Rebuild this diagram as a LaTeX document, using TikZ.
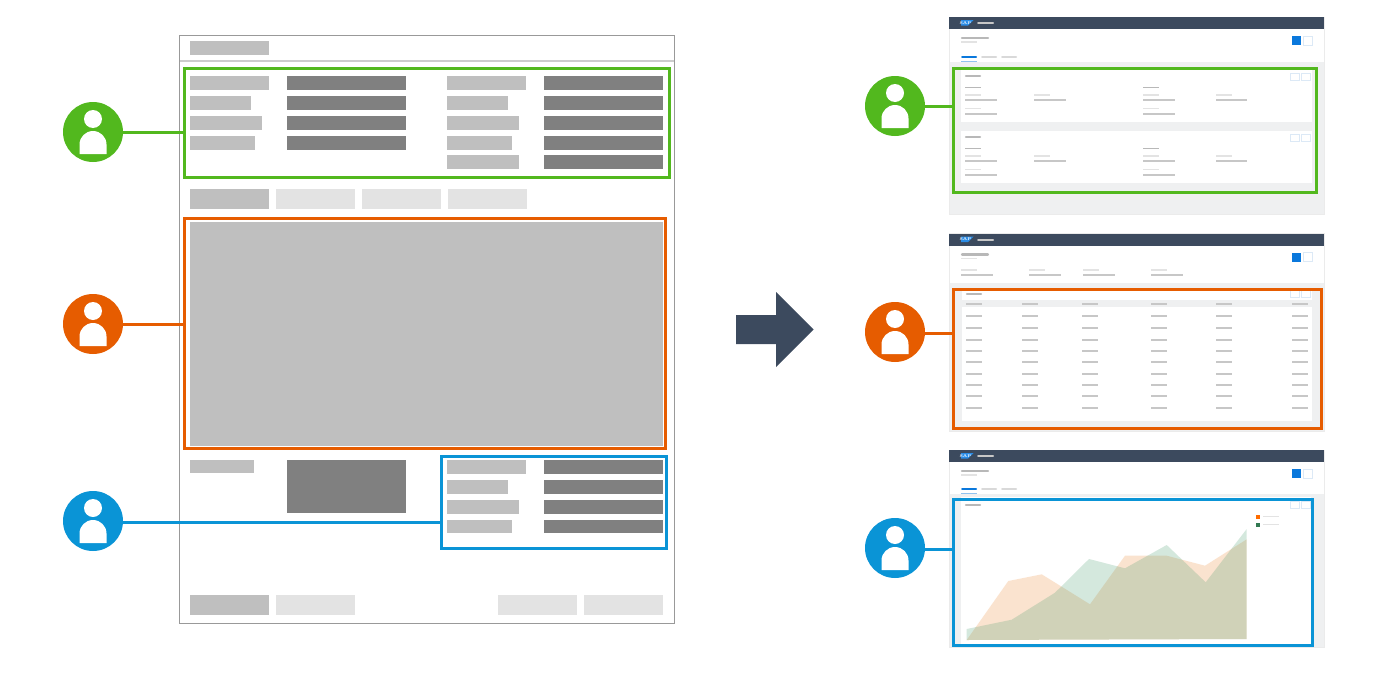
\documentclass[tikz,border=0pt]{standalone}
\usepackage{tikz}
\usetikzlibrary{arrows}
\usetikzlibrary{shapes,positioning}

\definecolor{usergreen}{HTML}{52B81E}
\definecolor{userorange}{HTML}{E65C00}
\definecolor{userblue}{HTML}{0A94D6}
\definecolor{shellblue}{HTML}{3C4A5E}
\definecolor{blockmid}{HTML}{BFBFBF}
\definecolor{blockdark}{HTML}{808080}
\definecolor{blocklight}{HTML}{E3E3E3}
\definecolor{panelgrey}{HTML}{EFF0F1}
\definecolor{actionblue}{HTML}{0A78DC}
\definecolor{iconline}{HTML}{DCE9F6}
\definecolor{chartorange}{HTML}{F09A50}
\definecolor{chartgreen}{HTML}{3F9767}
\definecolor{logoblue}{HTML}{2A8CE6}

\tikzset{
  midblock/.style={fill=blockmid},
  darkblock/.style={fill=blockdark},
  lightblock/.style={fill=blocklight},
  avatar/.style={circle,minimum size=60pt,inner sep=0pt,outer sep=0pt},
  frameline/.style={rectangle,draw,line width=3pt,inner sep=0pt,outer sep=0pt},
  linkline/.style={line width=3pt},
  valueline/.style={draw=black!22,line width=1.3pt},
  captionline/.style={draw=black!11,line width=1.2pt},
  headline/.style={draw=black!28,line width=2.2pt,line cap=round},
  subheadline/.style={draw=black!28,line width=1.6pt},
  tabline/.style={draw=black!15,line width=2pt,line cap=round},
  iconbox/.style={draw=iconline,fill=white,line width=0.9pt},
  screenedge/.style={draw=black!8,line width=0.7pt}
}

\newcommand{\useravatar}[4]{
  \begin{scope}[shift={(#2,#3)}]
    \node (#1) [avatar,fill=#4] at (0,0) {};
    \fill [white] (0,-13) circle (9);
    \fill [white] (-13.5,22) -- (-13.5,12.5) arc (180:360:13.5 and 13.5) -- (13.5,22) -- cycle;
  \end{scope}
}

\newcommand{\screentop}[2]{
  \begin{scope}[shift={(0,#2)}]
    \fill [shellblue] (949,17) rectangle (1324,29);
    \fill [logoblue] (961,20) -- (973.5,20) -- (968,25.5) -- (961,25.5) -- cycle;
    \node (#1) [text=white,inner sep=0pt,font=\bfseries\fontsize{4}{4}\selectfont] at (965.5,22.7) {SAP};
    \draw [tabline,black!22] (978,23) -- (993,23);
    \draw [headline] (962,38) -- (988,38);
    \draw [captionline] (961,42) -- (977,42);
    \fill [actionblue] (1292,36) rectangle (1301,45);
    \draw [iconbox] (1303,36) rectangle (1312,45);
  \end{scope}
}

\newcommand{\screentabs}[1]{
  \begin{scope}[shift={(0,#1)}]
    \draw [actionblue,line width=2pt,line cap=round] (962,57) -- (976,57);
    \draw [actionblue!45,line width=1.2pt] (961,61.5) -- (977,61.5);
    \draw [tabline] (982,57) -- (996,57);
    \draw [tabline] (1002,57) -- (1016,57);
  \end{scope}
}

\newcommand{\cardicons}[1]{
  \draw [iconbox] (1290,#1) rectangle (1299,#1+7);
  \draw [iconbox] (1301,#1) rectangle (1310,#1+7);
}

\newcommand{\detailcard}[1]{
  \begin{scope}[shift={(0,#1)}]
    \fill [white] (961,70) rectangle (1312,122);
    \draw [headline] (966,76) -- (980,76);
    \cardicons{73}
    \draw [subheadline] (965,87.5) -- (981,87.5);
    \draw [subheadline] (1143,87.5) -- (1159,87.5);
    \foreach \xa/\xb in {965/997,1034/1066,1143/1175,1216/1247} {
      \draw [captionline] (\xa,95) -- (\xa+16,95);
      \draw [valueline] (\xa,100) -- (\xb,100);
    }
    \foreach \xa/\xb in {965/997,1143/1175} {
      \draw [captionline] (\xa,108.5) -- (\xa+16,108.5);
      \draw [valueline] (\xa,114) -- (\xb,114);
    }
  \end{scope}
}

\begin{document}
\begin{tikzpicture}[x=1pt,y=-1pt]

  \useasboundingbox (0,0) rectangle (1400,680);

  \draw [black!40,line width=1pt] (179.5,35.5) rectangle (674.5,623.5);
  \draw [black!20,line width=1.5pt] (180,61) -- (674,61);
  \fill [midblock] (190,41) rectangle (269,55);

  \foreach \y/\xa/\xb in {76/269/526,96/251/508,116/262/519,136/255/512} {
    \fill [midblock] (190,\y) rectangle (\xa,\y+14);
    \fill [darkblock] (287,\y) rectangle (406,\y+14);
    \fill [midblock] (447,\y) rectangle (\xb,\y+14);
    \fill [darkblock] (544,\y) rectangle (663,\y+14);
  }
  \fill [midblock] (447,155) rectangle (519,169);
  \fill [darkblock] (544,155) rectangle (663,169);

  \fill [midblock] (190,189) rectangle (269,209);
  \fill [lightblock] (276,189) rectangle (355,209);
  \fill [lightblock] (362,189) rectangle (441,209);
  \fill [lightblock] (448,189) rectangle (527,209);

  \fill [midblock] (190,222) rectangle (663,446);

  \fill [midblock] (190,460) rectangle (254,473);
  \fill [darkblock] (287,460) rectangle (406,513);
  \foreach \y/\xb in {460/526,480/508,500/519,519.5/512} {
    \fill [midblock] (447,\y) rectangle (\xb,\y+13.5);
    \fill [darkblock] (544,\y) rectangle (663,\y+13.5);
  }

  \fill [midblock] (190,595) rectangle (269,615);
  \fill [lightblock] (276,595) rectangle (355,615);
  \fill [lightblock] (498,595) rectangle (577,615);
  \fill [lightblock] (584,595) rectangle (663,615);

  \node (formgreen) [frameline,draw=usergreen,minimum width=485pt,minimum height=108.5pt] at (427,123) {};
  \node (formorange) [frameline,draw=userorange,minimum width=481pt,minimum height=230pt] at (425,333.5) {};
  \node (formblue) [frameline,draw=userblue,minimum width=225pt,minimum height=92pt] at (554,502.5) {};

  \useravatar{usera}{93}{132}{usergreen}
  \useravatar{userb}{93}{324}{userorange}
  \useravatar{userc}{93}{521}{userblue}

  \draw [linkline,usergreen] (usera.east) -- (usera.east -| formgreen.west);
  \draw [linkline,userorange] (userb.east) -- (userb.east -| formorange.west);
  \draw [linkline,userblue] ([yshift=-1pt]userc.east) -- ([yshift=-1pt]userc.east -| formblue.west);

  \fill [shellblue] (736,315) -- (776,315) -- (776,292) -- (813.5,329.5) -- (776,367) -- (776,344) -- (736,344) -- cycle;

  \fill [panelgrey] (949,17) rectangle (1324,214.5);
  \fill [white] (949,29) rectangle (1324,62);
  \draw [screenedge] (949,17) rectangle (1324,214.5);
  \screentop{sapa}{0}
  \screentabs{0}
  \detailcard{0}
  \detailcard{61}

  \fill [panelgrey] (949,233) rectangle (1324,431);
  \fill [white] (949,245) rectangle (1324,283);
  \draw [screenedge] (949,233) rectangle (1324,431);
  \screentop{sapb}{216.5}
  \foreach \x in {961,1029,1083,1151} {
    \draw [captionline] (\x,270) -- (\x+16,270);
    \draw [valueline] (\x,275) -- (\x+32,275);
  }
  \fill [white] (962,290) rectangle (1312,421);
  \fill [panelgrey] (962,300) rectangle (1312,307);
  \draw [headline] (967,294) -- (981,294);
  \cardicons{290}
  \foreach \x in {966,1022,1082,1151,1216,1292} {
    \draw [valueline] (\x,304) -- (\x+16,304);
    \foreach \y in {316,328,340,351,362,374,385,396,408} {
      \draw [valueline] (\x,\y) -- (\x+16,\y);
    }
  }

  \fill [panelgrey] (949,450) rectangle (1324,647);
  \fill [white] (949,462) rectangle (1324,494);
  \draw [screenedge] (949,450) rectangle (1324,647);
  \screentop{sapc}{433}
  \screentabs{432}
  \fill [white] (961,497) rectangle (1311,645);
  \draw [headline] (966,505) -- (980,505);
  \cardicons{501}
  \fill [chartorange,opacity=0.27] (966.7,640) -- (1008.3,581) -- (1041.7,574.3) -- (1090,604.3) -- (1125,555.7) -- (1166.7,555.7) -- (1205,565.7) -- (1246.7,539.3) -- (1246.7,639) -- cycle;
  \fill [chartgreen,opacity=0.22] (966.7,629) -- (1011.7,619.7) -- (1055,592.7) -- (1089,559) -- (1125,568.3) -- (1166.7,545) -- (1205.7,582.3) -- (1246.7,529) -- (1246.7,639) -- (966.7,640) -- cycle;
  \fill [orange!85!red] (1256,514.5) rectangle (1260,518.5);
  \fill [chartgreen!80!black] (1256,522.5) rectangle (1260,526.5);
  \draw [captionline] (1263,516.5) -- (1279,516.5);
  \draw [captionline] (1263,524.5) -- (1279,524.5);

  \node (screengreen) [frameline,draw=usergreen,minimum width=363pt,minimum height=124pt] at (1135,130.5) {};
  \node (screenorange) [frameline,draw=userorange,minimum width=368pt,minimum height=139pt] at (1137.5,359) {};
  \node (screenblue) [frameline,draw=userblue,minimum width=359pt,minimum height=146pt] at (1133,572.5) {};

  \useravatar{userd}{895}{106}{usergreen}
  \useravatar{usere}{895}{332}{userorange}
  \useravatar{userf}{895}{548}{userblue}

  \draw [linkline,usergreen] (userd.east) -- (userd.east -| screengreen.west);
  \draw [linkline,userorange] ([yshift=-1.5pt]usere.east) -- ([yshift=-1.5pt]usere.east -| screenorange.west);
  \draw [linkline,userblue] ([yshift=-1pt]userf.east) -- ([yshift=-1pt]userf.east -| screenblue.west);

\end{tikzpicture}
\end{document}
